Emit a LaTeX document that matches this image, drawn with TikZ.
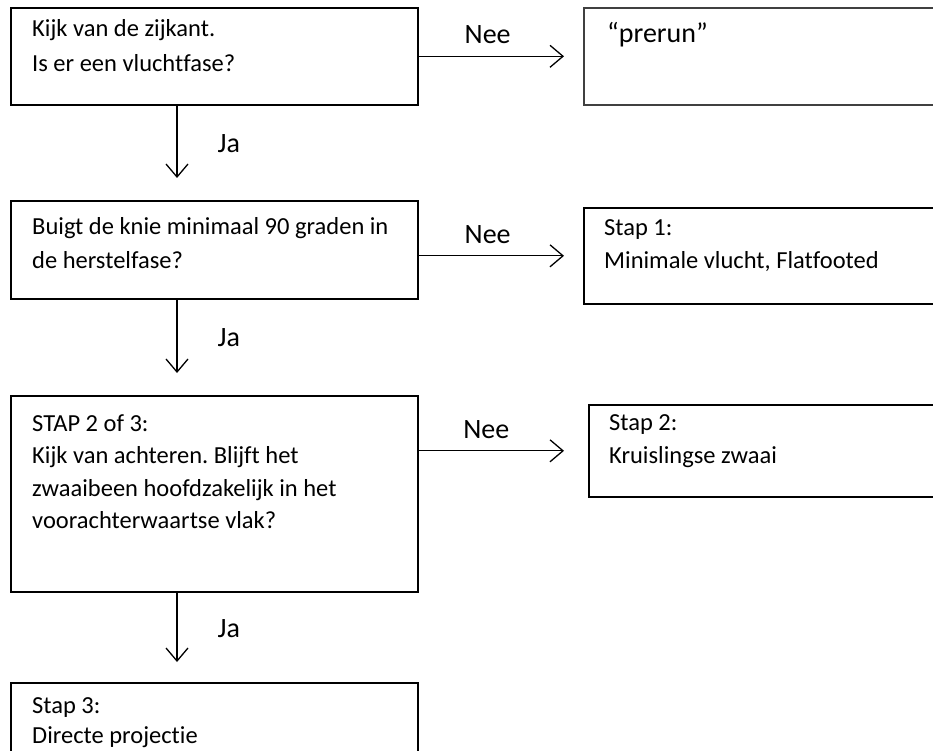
\documentclass[tikz,border=0pt]{standalone}
\usepackage{fontspec}
\setmainfont{Carlito}[Ligatures=NoCommon]
\usetikzlibrary{arrows.meta}
\frenchspacing
\begin{document}
\begin{tikzpicture}[x=1pt,y=-1pt,
  fbox/.style={draw=black, line width=1.6pt, inner sep=0pt, anchor=north west},
  txt/.style={anchor=west, inner sep=0pt, text height=17pt, text depth=5pt, font=\fontsize{24.5}{29}\selectfont},
  lbl/.style={inner sep=0pt, text height=20pt, text depth=6pt, font=\fontsize{28}{33}\selectfont},
  arr/.style={line width=1.3pt, -{Straight Barb[length=13pt,width=22pt,line width=1.3pt]}}]
\useasboundingbox (0,0) rectangle (933,751);
\clip (0,0) rectangle (933,751);
% boxes
\node[fbox, minimum width=407pt, minimum height=97pt] (b1) at (10,7) {};
\node[fbox, draw=black!75, minimum width=370pt, minimum height=97pt] (pr) at (583,7) {};
\node[fbox, minimum width=407pt, minimum height=98pt] (b2) at (10,200) {};
\node[fbox, minimum width=370pt, minimum height=96pt] (s1) at (583,207) {};
\node[fbox, minimum width=407pt, minimum height=196pt] (b3) at (10,395) {};
\node[fbox, minimum width=370pt, minimum height=92pt] (s2) at (588,404) {};
\node[fbox, minimum width=407pt, minimum height=100pt] (b4) at (10,682) {};
% texts
\node[txt] (t1a) at (32,31) {Kijk van de zijkant.};
\node[txt] (t1b) at (32,66) {Is er een vluchtfase?};
\node[lbl, anchor=west] (tpr) at (607,36) {“prerun”};
\node[txt] (t2a) at (32,228) {Buigt de knie minimaal 90 graden in};
\node[txt] (t2b) at (32,262) {de herstelfase?};
\node[txt] (ts1a) at (604,229) {Stap 1:};
\node[txt] (ts1b) at (604,262) {Minimale vlucht, Flatfooted};
\node[txt] (t3a) at (32,425) {STAP 2 of 3:};
\node[txt] (t3b) at (32,457) {Kijk van achteren. Blijft het};
\node[txt] (t3c) at (32,490) {zwaaibeen hoofdzakelijk in het};
\node[txt] (t3d) at (32,522) {voorachterwaartse vlak?};
\node[txt] (ts2a) at (609,424) {Stap 2:};
\node[txt] (ts2b) at (609,457) {Kruislingse zwaai};
\node[txt] (t4a) at (32,707) {Stap 3:};
\node[txt] (t4b) at (32,737) {Directe projectie};
% connectors
\coordinate (dx) at (177,0);
\draw[arr, shorten >=19pt] (b1.east) -- (b1.east -| pr.west) node[lbl, pos=0.42, above=6pt] (n1) {Nee};
\draw[arr, shorten >=19pt] (b2.east |- s1.west) -- (s1.west) node[lbl, pos=0.42, above=6pt] (n2) {Nee};
\draw[arr, shorten >=24pt] (b3.east |- s2.west) -- (s2.west) node[lbl, pos=0.40, above=6pt] (n3) {Nee};
\draw[arr, shorten >=22pt] (b1.south -| dx) -- (b2.north -| dx) node[lbl, pos=0.42, right=40pt] (j1) {Ja};
\draw[arr, shorten >=22pt] (b2.south -| dx) -- (b3.north -| dx) node[lbl, pos=0.42, right=40pt] (j2) {Ja};
\draw[arr, shorten >=20pt] (b3.south -| dx) -- (b4.north -| dx) node[lbl, pos=0.42, right=40pt] (j3) {Ja};
\end{tikzpicture}
\end{document}
